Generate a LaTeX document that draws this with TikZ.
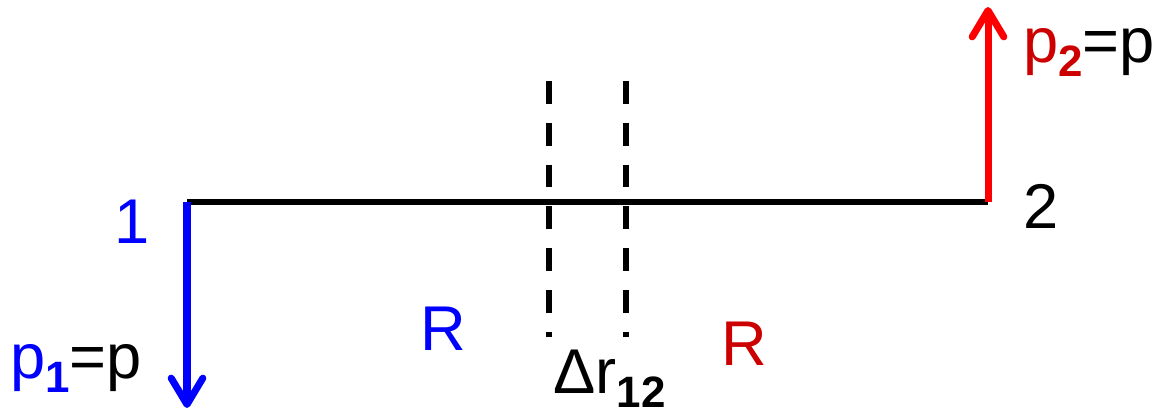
\documentclass[tikz,border=0pt]{standalone}
\usepackage{fontspec}
\setmainfont{Liberation Sans}
\usetikzlibrary{arrows.meta}
\definecolor{darkred}{RGB}{204,0,0}
\newcommand{\subidx}[1]{\raisebox{-8pt}{\fontsize{25}{25}\selectfont\bfseries #1}}

\begin{document}
\begin{tikzpicture}[x=0.02cm,y=-0.02cm,
  lbl/.style={inner sep=0pt,font=\fontsize{36}{40}\selectfont},
  mom/.style={line width=4pt,-{Straight Barb[length=15pt,width=18pt,round]}},
  cut/.style={line width=3pt,dash pattern=on 13pt off 10.8pt}]
\useasboundingbox (0,0) rectangle (1155,413);

% Particle positions
\def\YL{202}
\def\XA{187}
\def\XB{988}

\coordinate (n1) at (\XA,\YL);
\coordinate (n2) at (\XB,\YL);
\coordinate (p1tip) at (\XA,408);
\coordinate (p2tip) at (\XB,7);

% Line joining the particles
\draw[line width=3pt] (n1) -- (n2);

% Momenta
\draw[mom,blue] (n1) -- (p1tip);
\draw[mom,red] (n2) -- (p2tip);

% Cut lines
\coordinate (c1top) at (549,81);
\coordinate (c1bot) at (549,337);
\coordinate (c2top) at (626,81);
\coordinate (c2bot) at (626,337);
\draw[cut] (c1top) -- (c1bot);
\draw[cut] (c2top) -- (c2bot);

% Labels
\node[lbl,blue,anchor=base] (one) at (132,243) {1};
\node[lbl,anchor=base] (two) at (1041,228) {2};
\node[lbl,anchor=base west] (p1lbl) at (10,378) {\textcolor{blue}{p\subidx{1}}=p};
\node[lbl,anchor=base west] (p2lbl) at (1023,62) {\textcolor{darkred}{p\subidx{2}}=p};
\node[lbl,blue,anchor=base] (Rleft) at (443,350) {R};
\node[lbl,darkred,anchor=base] (Rright) at (744,365) {R};
\node[lbl,anchor=base west] (dr) at (553,393) {Δr\subidx{12}};
\end{tikzpicture}
\end{document}
